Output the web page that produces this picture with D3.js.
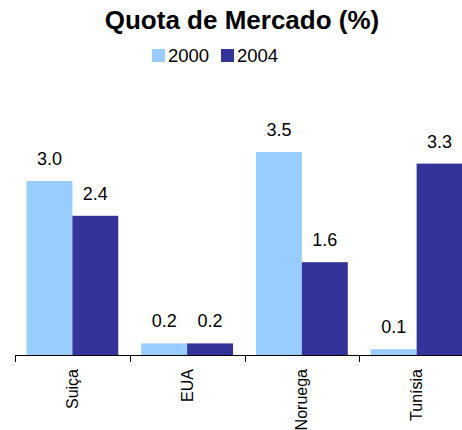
<!DOCTYPE html>
<html>
<head>
<meta charset="utf-8">
<script src="https://cdn.jsdelivr.net/npm/d3@7"></script>
<style>
  body { margin: 0; background: #fff; }
  svg { display: block; font-family: "Liberation Sans", Arial, sans-serif; }
</style>
</head>
<body>
<div id="container"></div>
<script>
const countries = ['Suiça', 'EUA', 'Noruega', 'Tunísia']
const years = ['2000', '2004']
const values2000 = [3.0, 0.2, 3.5, 0.1]
const values2004 = [2.4, 0.2, 1.6, 3.3]
const colors = ['#99ccff', '#333399']

const w = 462
const h = 430
const baseY = 355

const svg = d3.select('#container')
  .append('svg')
  .attr('width', w)
  .attr('height', h)

const series = [values2000, values2004]

// band ends past the right edge, as in the reference
const xScale = d3.scaleBand()
  .domain(countries)
  .range([15, 474])
  .paddingInner(0)
  .paddingOuter(0)

const xSub = d3.scaleBand()
  .domain(years)
  .range([0, xScale.bandwidth()])
  .paddingOuter(0.25)
  .paddingInner(0)

const yScale = d3.scaleLinear()
  .domain([0, 3.0])
  .range([baseY, 181])

const groups = svg.selectAll('.group')
  .data(countries)
  .enter().append('g')
  .attr('class', 'group')
  .attr('transform', d => 'translate(' + xScale(d) + ',0)')

groups.selectAll('rect')
  .data((d, i) => years.map((y, j) => ({ year: y, value: series[j][i], idx: j })))
  .enter().append('rect')
  .attr('x', d => xSub(d.year))
  .attr('y', d => yScale(d.value))
  .attr('width', xSub.bandwidth())
  .attr('height', d => baseY - yScale(d.value))
  .attr('fill', d => colors[d.idx])

groups.selectAll('text.val')
  .data((d, i) => years.map((y, j) => ({ year: y, value: series[j][i] })))
  .enter().append('text')
  .attr('class', 'val')
  .attr('x', d => xSub(d.year) + xSub.bandwidth() / 2)
  .attr('y', d => yScale(d.value) - 16)
  .attr('text-anchor', 'middle')
  .style('font-size', '18px')
  .style('fill', '#000')
  .text(d => d3.format('.1f')(d.value))

// category axis with ticks at band boundaries
const axis = svg.append('g').attr('id', 'x-axis')
axis.append('line')
  .attr('x1', xScale.range()[0])
  .attr('x2', xScale.range()[1])
  .attr('y1', baseY + 0.5)
  .attr('y2', baseY + 0.5)
  .attr('stroke', '#000')

const bounds = countries.map(c => xScale(c)).concat([xScale.range()[1]])
axis.selectAll('.tick')
  .data(bounds)
  .enter().append('line')
  .attr('x1', d => Math.round(d) + 0.5)
  .attr('x2', d => Math.round(d) + 0.5)
  .attr('y1', baseY)
  .attr('y2', baseY + 7)
  .attr('stroke', '#000')

axis.selectAll('.lbl')
  .data(countries)
  .enter().append('text')
  .attr('transform', d => 'translate(' + (xScale(d) + xScale.bandwidth() / 2) + ',' + 369 + ') rotate(-90)')
  .attr('dy', '0.35em')
  .attr('text-anchor', 'end')
  .style('font-size', '16px')
  .style('fill', '#000')
  .text(d => d)

svg.append('text')
  .attr('x', 242)
  .attr('y', 29)
  .attr('text-anchor', 'middle')
  .style('font-size', '26px')
  .style('font-weight', 'bold')
  .text('Quota de Mercado (%)')

const legend = svg.append('g').attr('id', 'legend')
const legendX = [152, 221]
years.forEach((y, i) => {
  legend.append('rect')
    .attr('x', legendX[i])
    .attr('y', 49)
    .attr('width', 13)
    .attr('height', 13)
    .attr('fill', colors[i])
  legend.append('text')
    .attr('x', legendX[i] + 16)
    .attr('y', 61.5)
    .style('font-size', '18.5px')
    .text(y)
})
</script>
</body>
</html>
